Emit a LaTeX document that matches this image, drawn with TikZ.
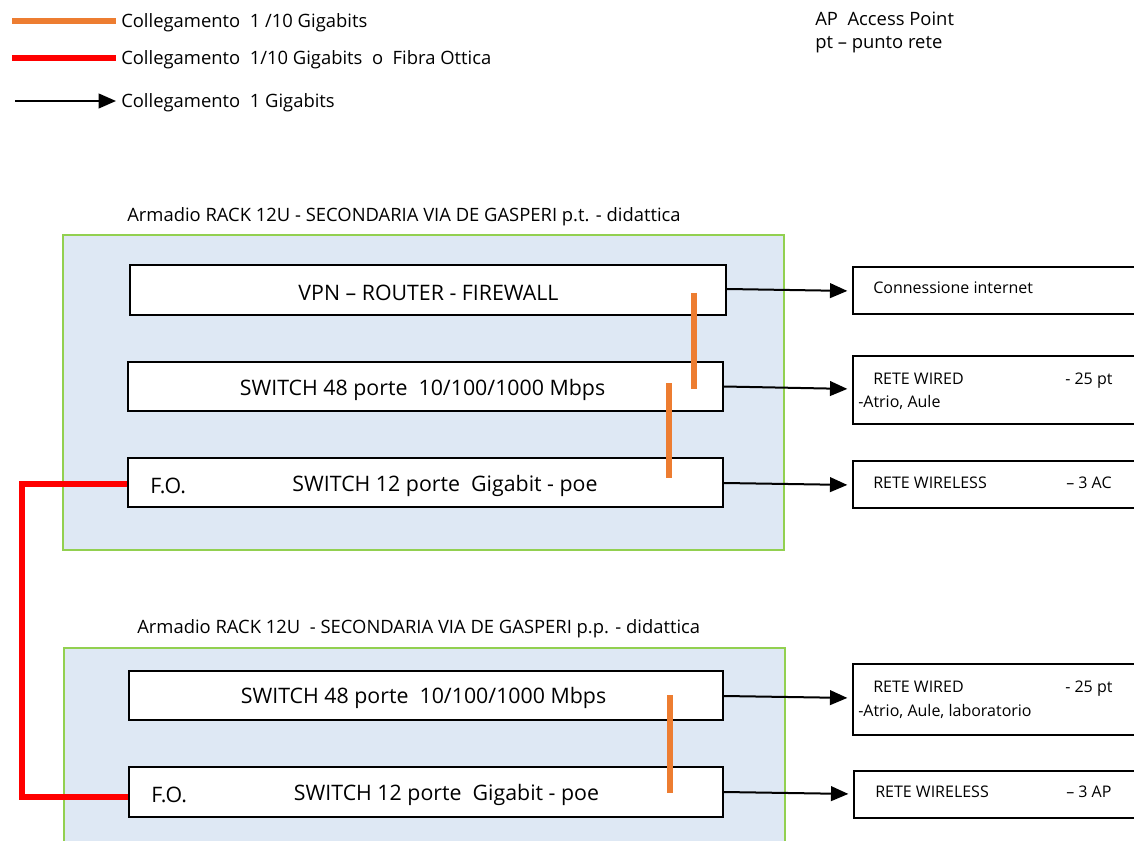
\documentclass[tikz,border=0pt]{standalone}
\usepackage{fontspec}
\setmainfont{Open Sans}
\usetikzlibrary{arrows.meta}
\definecolor{cabfill}{HTML}{DEE8F4}
\definecolor{cabline}{HTML}{92D050}
\definecolor{orangelink}{HTML}{ED7D31}
\definecolor{redlink}{HTML}{FF0000}
\tikzset{
  cabinet/.style={draw=cabline, line width=1.3pt, fill=cabfill},
  devbox/.style={draw=black, line width=1.4pt, fill=white, inner sep=0pt},
  netbox/.style={draw=black, line width=1.4pt, fill=white, inner sep=0pt, anchor=north west},
  legtxt/.style={anchor=west, inner sep=0pt, yshift=-1.2pt, font=\fontsize{13.8}{16}\selectfont},
  devtxt/.style={inner sep=0pt, yshift=-1.2pt, font=\fontsize{16}{19}\selectfont},
  titletxt/.style={anchor=west, inner sep=0pt, yshift=-1.2pt, font=\fontsize{13.8}{16}\selectfont},
  nettxt/.style={anchor=west, inner sep=0pt, text depth=0pt, font=\fontsize{12}{14}\selectfont},
  orangeline/.style={draw=orangelink, line width=3.8pt},
  redline/.style={draw=redlink, line width=3.8pt},
  arr/.style={draw=black, line width=1.5pt, -{Triangle[length=13pt,width=11pt]}},
  arrbox/.style={arr, shorten >=3.5pt},
}
\begin{document}
\begin{tikzpicture}[x=0.75pt,y=-0.75pt]
\useasboundingbox (0,0) rectangle (1134,841);
\clip (0,0) rectangle (1134,841);

% Legend
\coordinate (lo1) at (12,21); \coordinate (lo2) at (116,21);
\draw[orangeline] (lo1) -- (lo2);
\node[legtxt] (lt1) at (121,21) {Collegamento\ \ 1 /10 Gigabits};
\coordinate (lr1) at (12,58); \coordinate (lr2) at (116,58);
\draw[redline] (lr1) -- (lr2);
\node[legtxt] (lt2) at (121,58) {Collegamento\ \ 1/10 Gigabits\ \ o\ \ Fibra Ottica};
\coordinate (la1) at (15,101); \coordinate (la2) at (116,101);
\draw[arr] (la1) -- (la2);
\node[legtxt] (lt3) at (121,101) {Collegamento\ \ 1 Gigabits};

\node[legtxt] (ap) at (815,17) {AP\ \ Access Point};
\node[legtxt] (pt) at (815,43) {pt – punto rete};

% Cabinet 1
\node[titletxt] (title1) at (127,215) {Armadio RACK 12U - SECONDARIA VIA DE GASPERI p.t. - didattica};
\draw[cabinet] (63,235) rectangle (784,550);
\node[devbox, minimum width=596*0.75pt, minimum height=50*0.75pt] (vpn) at (428,290) {};
\node[devtxt] at (428.5,291) {VPN – ROUTER - FIREWALL};
\node[devbox, minimum width=595*0.75pt, minimum height=49*0.75pt] (sw48a) at (425.5,386.5) {};
\node[devtxt] at (422.5,388) {SWITCH 48 porte\ \ 10/100/1000 Mbps};
\node[devbox, minimum width=595*0.75pt, minimum height=49*0.75pt] (sw12a) at (425.5,482.5) {};
\node[devtxt, anchor=west] (foa) at (150,484) {F.O.};
\node[devtxt] at (445,484) {SWITCH 12 porte\ \ Gigabit - poe};

\coordinate (o1a) at (694,293); \coordinate (o1b) at (694,389);
\draw[orangeline] (o1a) -- (o1b);
\coordinate (o2a) at (669,383); \coordinate (o2b) at (669,478);
\draw[orangeline] (o2a) -- (o2b);

% Right boxes 1
\node[netbox, minimum width=300*0.75pt, minimum height=47*0.75pt] (inet) at (852,266) {};
\node[nettxt] at (873,288) {Connessione internet};
\node[netbox, minimum width=300*0.75pt, minimum height=68*0.75pt] (wired1) at (852,355) {};
\node[nettxt] at (873,379) {RETE WIRED};
\node[nettxt] at (1065,379) {- 25 pt};
\node[nettxt] at (858,401) {-Atrio, Aule};
\node[netbox, minimum width=300*0.75pt, minimum height=47*0.75pt] (wless1) at (852,460) {};
\node[nettxt] at (873,483) {RETE WIRELESS};
\node[nettxt] at (1066,483) {– 3 AC};

\draw[arrbox] (vpn.east |- 0,289) -- (inet.west |- 0,291);
\draw[arrbox] (sw48a.east) -- (wired1.west |- 0,389);
\draw[arrbox] (sw12a.east |- 0,483) -- (wless1.west |- 0,485);

% Cabinet 2
\node[titletxt] (title2) at (137,627) {Armadio RACK 12U\ \ - SECONDARIA VIA DE GASPERI p.p. - didattica};
\draw[cabinet] (64,648) rectangle (785,860);
\node[devbox, minimum width=594*0.75pt, minimum height=49*0.75pt] (sw48b) at (426,695.5) {};
\node[devtxt] at (423.5,696) {SWITCH 48 porte\ \ 10/100/1000 Mbps};
\node[devbox, minimum width=594*0.75pt, minimum height=50*0.75pt] (sw12b) at (426,792) {};
\node[devtxt, anchor=west] (fob) at (151,793) {F.O.};
\node[devtxt] at (446.5,793) {SWITCH 12 porte\ \ Gigabit - poe};

\coordinate (o3a) at (670,695); \coordinate (o3b) at (670,793);
\draw[orangeline] (o3a) -- (o3b);

% Right boxes 2
\node[netbox, minimum width=300*0.75pt, minimum height=71*0.75pt] (wired2) at (852,663) {};
\node[nettxt] at (873,687) {RETE WIRED};
\node[nettxt] at (1065,687) {- 25 pt};
\node[nettxt] at (858,710) {-Atrio, Aule, laboratorio};
\node[netbox, minimum width=300*0.75pt, minimum height=47*0.75pt] (wless2) at (853,770) {};
\node[nettxt] at (875,792) {RETE WIRELESS};
\node[nettxt] at (1066,792) {– 3 AP};

\draw[arrbox] (sw48b.east |- 0,696) -- (wired2.west |- 0,698);
\draw[arrbox] (sw12b.east |- 0,792) -- (wless2.west |- 0,794);

% Fibre link
\draw[redline, line join=miter] (sw12a.west |- 0,484) -- (22,484) -- (22,797) -- (sw12b.west |- 0,797);
\end{tikzpicture}
\end{document}
